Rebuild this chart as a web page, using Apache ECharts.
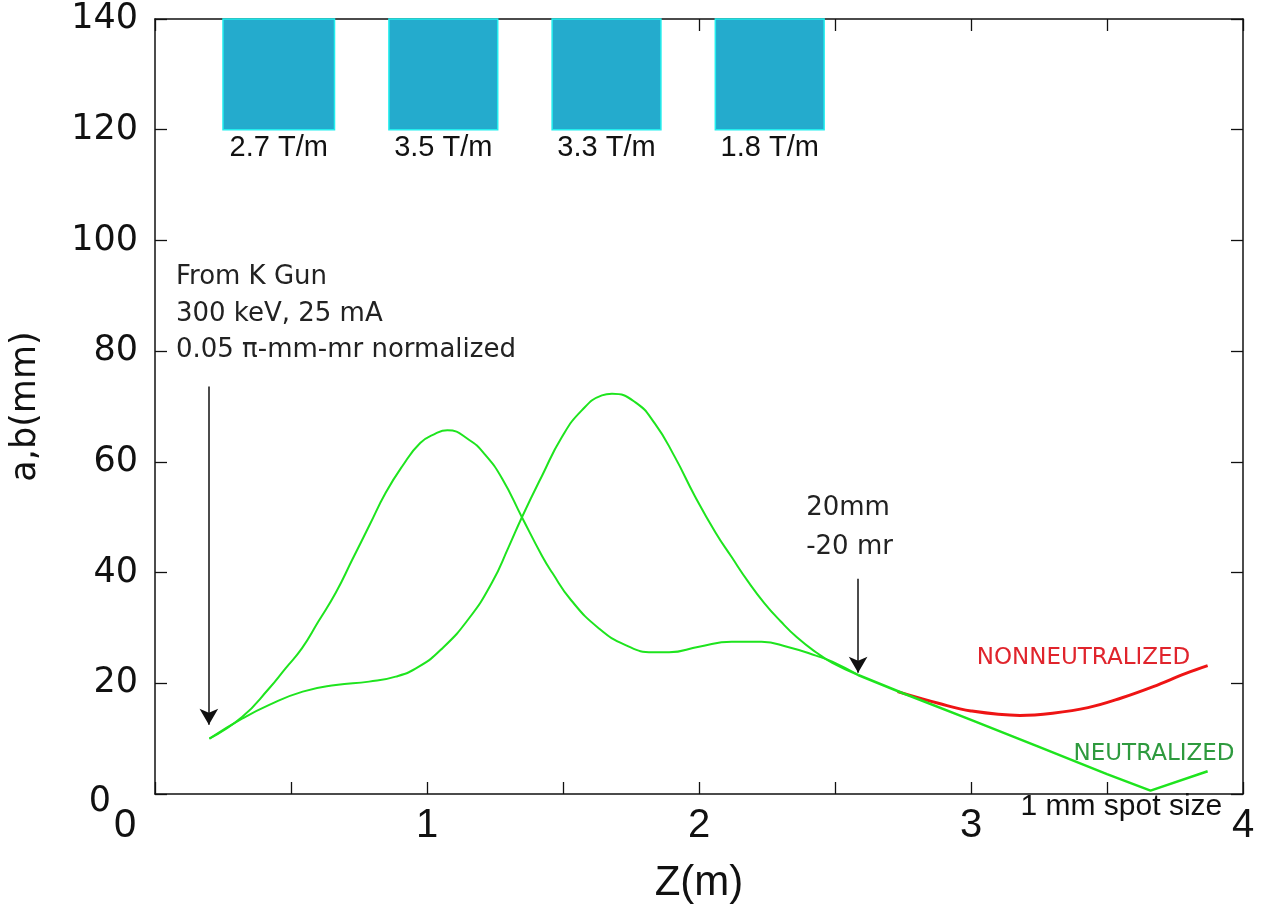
<!DOCTYPE html>
<html>
<head>
<meta charset="utf-8">
<script src="https://cdn.jsdelivr.net/npm/echarts@6/dist/echarts.min.js"></script>
<style>
  html, body { margin: 0; padding: 0; background: #fff; }
  #chart { width: 1268px; height: 909px; }
</style>
</head>
<body>
<div id="chart"></div>
<script>
// envelope a (peaks in the 2nd quad)
const zA = [0.2, 0.32, 0.42, 0.48, 0.54, 0.6, 0.665, 0.726, 0.787, 0.848, 0.909, 0.975, 1.031, 1.075, 1.154, 1.215, 1.276, 1.349, 1.423, 1.46, 1.53, 1.63, 1.73, 1.83, 1.89, 2.0, 2.12, 2.23, 2.33, 2.43, 2.49, 2.585];
const vA = [10, 13.9, 19.1, 22.7, 26.3, 31.1, 36.4, 42.4, 48.4, 54.4, 59.2, 63.4, 65.1, 65.7, 64.0, 61.2, 57.0, 50.0, 43.0, 40.0, 35.0, 30.0, 26.9, 25.6, 25.6, 26.6, 27.5, 27.5, 26.5, 25.0, 23.9, 21.5];

// envelope b (peaks in the 3rd quad)
const zB = [0.2, 0.32, 0.42, 0.543, 0.665, 0.787, 0.885, 0.97, 1.056, 1.154, 1.239, 1.3, 1.349, 1.423, 1.496, 1.569, 1.643, 1.68, 1.765, 1.838, 1.911, 1.985, 2.06, 2.12, 2.18, 2.24, 2.3, 2.36, 2.43, 2.49, 2.585];
const vB = [10, 13.6, 16.1, 18.5, 19.7, 20.3, 21.2, 23.0, 26.3, 31.7, 38.2, 44.6, 50.0, 57.5, 64.5, 69.3, 72.0, 72.3, 70.8, 66.9, 60.9, 53.8, 47.3, 42.8, 38.4, 34.5, 31.2, 28.3, 25.6, 23.7, 21.5];

// after the last quad
const zNeutral = [2.585, 2.75, 3.0, 3.25, 3.5, 3.66, 3.87];
const vNeutral = [21.5, 18.2, 13.4, 8.5, 3.6, 0.6, 4.1];
const zNonNeutral = [2.73, 2.88, 3.0, 3.18, 3.3, 3.43, 3.55, 3.67, 3.79, 3.87];
const vNonNeutral = [18.5, 16.4, 15.0, 14.2, 14.6, 15.6, 17.3, 19.4, 21.8, 23.2];

// quadrupoles
const quadStart = [0.25, 0.86, 1.46, 2.06];
const quadEnd = [0.66, 1.26, 1.86, 2.46];
const quadGradient = ["2.7 T/m", "3.5 T/m", "3.3 T/m", "1.8 T/m"];
const quadLow = 120;
const quadHigh = 140;

// arrows
const arrowZ = [0.198, 2.585];
const arrowFrom = [73.6, 38.9];
const arrowTo = [12.5, 21.9];

// notes
const noteText = ["From K Gun", "300 keV, 25 mA", "0.05 π-mm-mr normalized", "20mm", "-20 mr"];
const noteZ = [0.077, 0.077, 0.077, 2.394, 2.394];
const noteV = [93.4, 86.6, 80.1, 51.6, 44.6];

const xTicks = [0, 1, 2, 3, 4];
const yTicks = [0, 20, 40, 60, 80, 100, 120, 140];

const pair = (xs, ys) => xs.map((x, i) => [x, ys[i]]);

const chart = echarts.init(document.getElementById("chart"));

const axisLine = { show: true, onZero: false, lineStyle: { color: "#111", width: 1.5 } };
const tickIn = { inside: true, length: 12, lineStyle: { color: "#111", width: 1.3 } };

chart.setOption({
  animation: false,
  grid: { left: 152, right: 25, top: 19, bottom: 109 },
  xAxis: [
    {
      type: "value",
      min: 0,
      max: 4,
      interval: 0.5,
      name: "Z(m)",
      nameLocation: "middle",
      nameGap: 68,
      nameTextStyle: { fontFamily: "Liberation Sans", fontSize: 42, color: "#111" },
      axisLine: axisLine,
      axisTick: tickIn,
      splitLine: { show: false },
      axisLabel: {
        margin: 12,
        fontFamily: "Liberation Sans",
        fontSize: 40,
        color: "#111",
        formatter: (v) => {
          if (!xTicks.includes(v)) return "";
          return v === 0 ? "{z|0}" : String(v);
        },
        rich: { z: { fontFamily: "Liberation Sans", fontSize: 40, color: "#111", padding: [0, 60, 0, 0] } },
      },
    },
    {
      type: "value",
      position: "top",
      min: 0,
      max: 4,
      interval: 0.5,
      axisLine: axisLine,
      axisTick: tickIn,
      axisLabel: { show: false },
      splitLine: { show: false },
    },
  ],
  yAxis: [
    {
      type: "value",
      min: 0,
      max: 140,
      interval: 20,
      name: "a,b(mm)",
      nameLocation: "middle",
      nameRotate: 90,
      nameGap: 112,
      nameTextStyle: { fontFamily: "DejaVu Sans", fontSize: 35, color: "#111" },
      axisLine: axisLine,
      axisTick: tickIn,
      splitLine: { show: false },
      axisLabel: {
        margin: 17,
        fontFamily: "DejaVu Sans",
        fontSize: 35,
        color: "#111",
        formatter: (v) => {
          if (!yTicks.includes(v)) return "";
          return v === 0 ? "{z|0}" : String(v);
        },
        rich: { z: { fontFamily: "DejaVu Sans", fontSize: 35, color: "#111", padding: [16, 27, 0, 0] } },
      },
    },
    {
      type: "value",
      position: "right",
      min: 0,
      max: 140,
      interval: 20,
      axisLine: axisLine,
      axisTick: tickIn,
      axisLabel: { show: false },
      splitLine: { show: false },
    },
  ],
  series: [
    {
      name: "a",
      type: "line",
      data: pair(zA, vA),
      smooth: 0.5,
      showSymbol: false,
      lineStyle: { color: "#1ee41e", width: 2 },
    },
    {
      name: "b",
      type: "line",
      data: pair(zB, vB),
      smooth: 0.5,
      showSymbol: false,
      lineStyle: { color: "#1ee41e", width: 2 },
    },
    {
      name: "NONNEUTRALIZED",
      type: "line",
      data: pair(zNonNeutral, vNonNeutral),
      smooth: 0.4,
      showSymbol: false,
      lineStyle: { color: "#ee1414", width: 3 },
      z: 2,
    },
    {
      name: "NEUTRALIZED",
      type: "line",
      data: pair(zNeutral, vNeutral),
      showSymbol: false,
      lineStyle: { color: "#1ee41e", width: 2.5 },
      z: 3,
      // arrows hang off this series
      markLine: {
        silent: true,
        symbol: ["none", "arrow"],
        symbolSize: [14, 16],
        label: { show: false },
        lineStyle: { color: "#111", width: 1.5, type: "solid" },
        data: arrowZ.map((z, i) => [{ coord: [z, arrowFrom[i]] }, { coord: [z, arrowTo[i]] }]),
      },
    },
    {
      // quadrupole magnets
      type: "custom",
      silent: true,
      z: 5,
      clip: false,
      data: quadStart.map((s, i) => [s, quadEnd[i], i]),
      renderItem: (params, api) => {
        const i = api.value(2);
        const p0 = api.coord([api.value(0), quadHigh]);
        const p1 = api.coord([api.value(1), quadLow]);
        return {
          type: "group",
          children: [
            {
              type: "rect",
              shape: { x: p0[0], y: p0[1], width: p1[0] - p0[0], height: p1[1] - p0[1] },
              style: { fill: "#24abcd", stroke: "#22eeee", lineWidth: 1.5 },
            },
            {
              type: "text",
              style: {
                text: quadGradient[i],
                x: (p0[0] + p1[0]) / 2,
                y: p1[1] + 4,
                align: "center",
                verticalAlign: "top",
                fontFamily: "Liberation Sans",
                fontSize: 29,
                fill: "#111",
              },
            },
          ],
        };
      },
    },
    {
      // text notes
      type: "custom",
      silent: true,
      clip: false,
      data: noteZ.map((z, i) => [z, noteV[i], i]),
      renderItem: (params, api) => {
        const p = api.coord([api.value(0), api.value(1)]);
        return {
          type: "text",
          style: {
            text: noteText[api.value(2)],
            x: p[0],
            y: p[1],
            align: "left",
            verticalAlign: "middle",
            fontFamily: "DejaVu Sans",
            fontSize: 26,
            fill: "#222",
          },
        };
      },
    },
    {
      // curve labels
      type: "custom",
      silent: true,
      clip: false,
      data: [
        [3.021, 24.6, 0],
        [3.377, 7.2, 1],
        [3.182, -2.3, 2],
      ],
      renderItem: (params, api) => {
        const p = api.coord([api.value(0), api.value(1)]);
        const k = api.value(2);
        const txt = ["NONNEUTRALIZED", "NEUTRALIZED", "1 mm spot size"][k];
        const col = ["#e0242c", "#2e9a3e", "#111"][k];
        return {
          type: "text",
          style: {
            text: txt,
            x: p[0],
            y: p[1],
            align: "left",
            verticalAlign: "middle",
            fontFamily: k === 2 ? "Liberation Sans" : "DejaVu Sans",
            fontSize: k === 2 ? 30 : 23,
            fill: col,
          },
        };
      },
    },
  ],
});
</script>
</body>
</html>
